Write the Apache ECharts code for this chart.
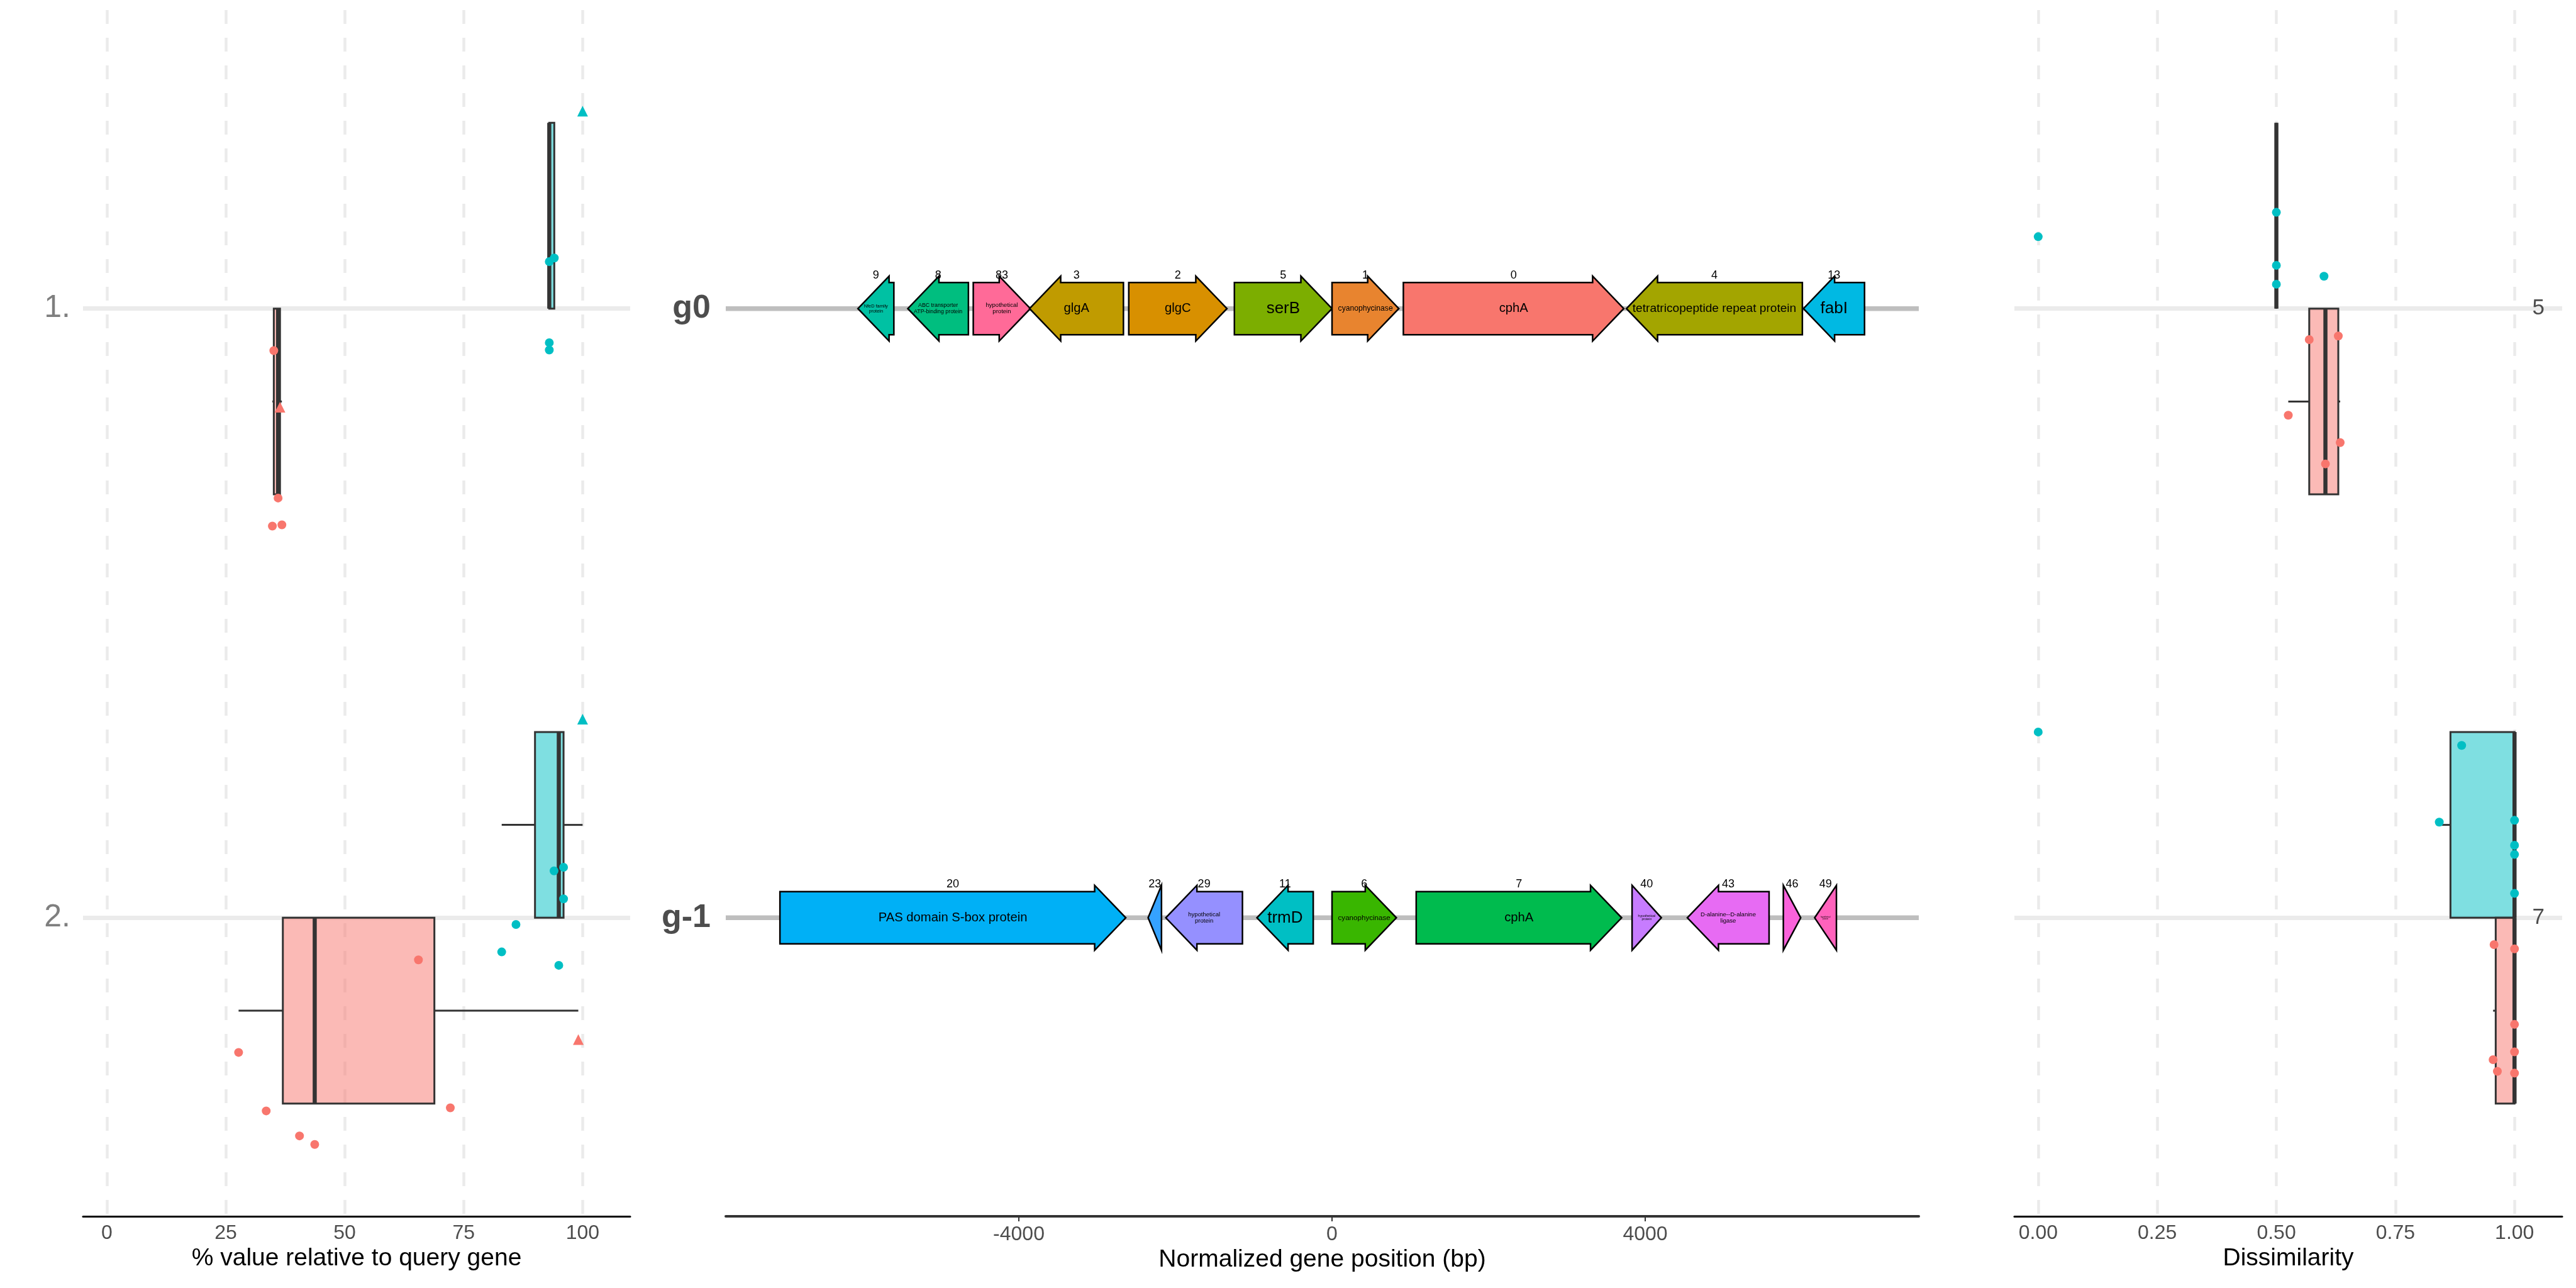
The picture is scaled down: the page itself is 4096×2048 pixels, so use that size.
<!DOCTYPE html>
<html><head><meta charset="utf-8">
<script src="https://cdn.jsdelivr.net/npm/echarts@6/dist/echarts.min.js"></script>
<style>html,body{margin:0;padding:0;background:#fff}#c{width:4096px;height:2048px}</style>
</head><body><div id="c"></div>
<script>
// ================= DATA =================
const ROW_CATEGORIES = [1, 2];
const LEFT_ROW_LABELS = ['1.', '2.'];
const MID_ROW_LABELS = ['g0', 'g-1'];
const RIGHT_ROW_LABELS = ['5', '7'];

const LEFT_TICKS = [0, 25, 50, 75, 100];
const MID_TICKS = [-4000, 0, 4000];
const RIGHT_TICKS = [0, 0.25, 0.5, 0.75, 1];

const LEFT_RANGE = [-5, 110];
const MID_RANGE = [-7743, 7494];
const RIGHT_RANGE = [-0.05, 1.10];
const ROW_RANGE = [0.51, 2.49];

// boxplot stats: [row, lowWhisker, q1, median, q3, highWhisker]
const LEFT_BOX_CYAN = [[1, 93.0, 93.0, 93.0, 94.05, 94.05], [2, 83.0, 90.0, 95.0, 96.0, 100.0]];
const LEFT_BOX_RED  = [[1, 34.8, 35.1, 36.0, 36.4, 36.8], [2, 27.7, 37.0, 43.7, 68.85, 99.1]];
const RIGHT_BOX_CYAN = [[1, 0.5, 0.5, 0.5, 0.5, 0.5], [2, 0.842, 0.8655, 1.0, 1.0, 1.0]];
const RIGHT_BOX_RED  = [[1, 0.525, 0.569, 0.603, 0.630, 0.634], [2, 0.955, 0.9605, 1.0, 1.0, 1.0]];

// jittered points: [value, row position]
const LEFT_CYAN_POINTS = [[93.0, 0.923], [94.05, 0.917], [93.0, 1.056], [93.0, 1.068],
  [94.0, 1.923], [96.0, 1.917], [96.0, 1.969], [86.0, 2.011], [83.0, 2.056], [95.0, 2.078]];
const LEFT_CYAN_QUERY = [[100, 0.676], [100, 1.674]];
const LEFT_RED_POINTS = [[35.1, 1.069], [36.0, 1.311], [34.8, 1.357], [36.8, 1.355],
  [65.5, 2.069], [27.7, 2.221], [33.5, 2.317], [72.2, 2.312], [40.5, 2.358], [43.7, 2.372]];
const LEFT_RED_QUERY = [[36.4, 1.162], [99.1, 2.2]];
const RIGHT_CYAN_POINTS = [[0.0, 0.882], [0.5, 0.842], [0.5, 0.929], [0.5, 0.960], [0.6, 0.947],
  [0.0, 1.695], [0.889, 1.717], [0.842, 1.843], [1.0, 1.840], [1.0, 1.881], [1.0, 1.896], [1.0, 1.960]];
const RIGHT_RED_POINTS = [[0.569, 1.051], [0.630, 1.045], [0.525, 1.175], [0.634, 1.220], [0.603, 1.255],
  [0.957, 2.044], [1.0, 2.051], [1.0, 2.175], [1.0, 2.220], [0.955, 2.233], [0.964, 2.252], [1.0, 2.255]];

// gene maps (bp, normalized); strand 1 = forward, -1 = reverse
const G0_IDS = ['9', '8', '83', '3', '2', '5', '1', '0', '4', '13'];
const G0_NAMES = ['NfeD family protein', 'ABC transporter ATP-binding protein', 'hypothetical protein', 'glgA', 'glgC', 'serB', 'cyanophycinase', 'cphA', 'tetratricopeptide repeat protein', 'fabI'];
const G0_START = [-6055, -5418, -4582, -3863, -2596, -1247, 0, 911, 3760, 6021];
const G0_END = [-5596, -4644, -3853, -2664, -1342, 0, 853, 3726, 6007, 6801];
const G0_STRAND = [-1, -1, 1, -1, 1, 1, 1, 1, -1, -1];

const G1_IDS = ['20', '23', '29', '11', '6', '7', '40', '43', '46', '49'];
const G1_NAMES = ['PAS domain S-box protein', '', 'hypothetical protein', 'trmD', 'cyanophycinase', 'cphA', 'hypothetical protein', 'D-alanine--D-alanine ligase', '', 'hypothetical protein'];
const G1_START = [-7051, -2349, -2123, -959, 0, 1075, 3832, 4538, 5764, 6164];
const G1_END = [-2634, -2178, -1144, -240, 822, 3699, 4206, 5582, 5986, 6442];
const G1_STRAND = [1, -1, -1, -1, 1, 1, 1, -1, 1, -1];

// ================= STYLE =================
const FONT = '"Liberation Sans", Arial, sans-serif';
const CYAN = '#00BFC4', RED = '#F8766D';
const CYAN_FILL = 'rgba(0,191,196,0.5)', RED_FILL = 'rgba(248,118,109,0.5)';
const GENE_FILL = {
  '9': '#00C1A3', '8': '#00BE7F', '83': '#FF6A98', '3': '#C09B00', '2': '#D89000',
  '5': '#7CAE00', '1': '#E8842F', '0': '#F8766D', '4': '#A3A500', '13': '#00B9E3',
  '20': '#00B0F6', '23': '#35A2FF', '29': '#9590FF', '11': '#00BFC4', '6': '#39B600',
  '7': '#00BB4E', '40': '#C77CFF', '43': '#E76BF3', '46': '#FA62DB', '49': '#FF62BC'
};
const BOX_SPAN = 0.305;
const HEAD_LEN = 49.5, BODY_HALF = 41.5, HEAD_HALF = 51.6;
const LABEL_BOX_H = 19, LABEL_PAD = 9.5, LINE_H = 1.05, MIN_FONT = 2.5;

// ================= HELPERS =================
const measureCtx = document.createElement('canvas').getContext('2d');
measureCtx.font = '100px "Liberation Sans"';
function emWidth(t) { return measureCtx.measureText(t).width / 100; }
function splits(words, maxLines) {
  const out = [];
  (function rec(start, acc) {
    if (start === words.length) { out.push(acc); return; }
    if (acc.length >= maxLines) return;
    for (let k = start + 1; k <= words.length; k++) rec(k, acc.concat([words.slice(start, k).join(' ')]));
  })(0, []);
  return out;
}
function fitLabel(name, widthPx) {
  if (!name) return null;
  const aw = widthPx - 2 * LABEL_PAD;
  if (aw <= 0) return null;
  const boxAspect = aw / LABEL_BOX_H;
  let best = null;
  for (const lines of splits(name.split(' '), 3)) {
    const wEm = Math.max.apply(null, lines.map(emWidth));
    const top = /[A-Z0-9bdfhiklt]/.test(lines[0]) ? 0.73 : 0.53;
    const bot = /[gjpqy]/.test(lines[lines.length - 1]) ? 0.21 : 0;
    const hEm = top + bot + (lines.length - 1) * LINE_H;
    const diff = Math.abs(wEm / hEm - boxAspect);
    if (!best || diff < best.diff) best = { diff, lines, wEm, hEm };
  }
  const f = Math.min(LABEL_BOX_H / best.hEm, aw / best.wEm);
  if (f < MIN_FONT) return null;
  return { text: best.lines.join('\n'), f };
}

function boxRenderer(side, fill) {
  return function (params, api) {
    const row = api.value(0), lo = api.value(1), q1 = api.value(2), med = api.value(3), q3 = api.value(4), hi = api.value(5);
    const edge = row + side * BOX_SPAN, mid = row + side * BOX_SPAN / 2;
    const pA = api.coord([q1, row]), pB = api.coord([q3, edge]);
    const yTop = Math.min(pA[1], pB[1]), yBot = Math.max(pA[1], pB[1]);
    const ym = api.coord([q1, mid])[1];
    const xlo = api.coord([lo, row])[0], xhi = api.coord([hi, row])[0], xmed = api.coord([med, row])[0];
    const st = { stroke: '#333333', lineWidth: 3 };
    return { type: 'group', children: [
      { type: 'line', shape: { x1: xlo, y1: ym, x2: pA[0], y2: ym }, style: st },
      { type: 'line', shape: { x1: pB[0], y1: ym, x2: xhi, y2: ym }, style: st },
      { type: 'rect', shape: { x: pA[0], y: yTop, width: pB[0] - pA[0], height: yBot - yTop }, style: { fill: fill, stroke: '#333333', lineWidth: 3 } },
      { type: 'line', shape: { x1: xmed, y1: yTop, x2: xmed, y2: yBot }, style: { stroke: '#333333', lineWidth: 6.5 } }
    ] };
  };
}

// gene table
const geneData = [], geneMeta = [];
function addRow(row, ids, names, starts, ends, strands) {
  for (let i = 0; i < ids.length; i++) {
    geneMeta.push({ id: ids[i], name: names[i] });
    geneData.push([starts[i], ends[i], row, strands[i], geneMeta.length - 1]);
  }
}
addRow(ROW_CATEGORIES[0], G0_IDS, G0_NAMES, G0_START, G0_END, G0_STRAND);
addRow(ROW_CATEGORIES[1], G1_IDS, G1_NAMES, G1_START, G1_END, G1_STRAND);

function renderGene(params, api) {
  const s = api.value(0), e = api.value(1), row = api.value(2), strand = api.value(3), k = api.value(4);
  const meta = geneMeta[k];
  const p1 = api.coord([s, row]), p2 = api.coord([e, row]);
  const x1 = p1[0], x2 = p2[0], cy = p1[1];
  const w = x2 - x1, hl = Math.min(HEAD_LEN, w);
  let pts;
  if (strand > 0) {
    const xh = x2 - hl;
    pts = [[x1, cy - BODY_HALF], [xh, cy - BODY_HALF], [xh, cy - HEAD_HALF], [x2, cy], [xh, cy + HEAD_HALF], [xh, cy + BODY_HALF], [x1, cy + BODY_HALF]];
  } else {
    const xh = x1 + hl;
    pts = [[x2, cy - BODY_HALF], [xh, cy - BODY_HALF], [xh, cy - HEAD_HALF], [x1, cy], [xh, cy + HEAD_HALF], [xh, cy + BODY_HALF], [x2, cy + BODY_HALF]];
  }
  const children = [
    { type: 'polygon', shape: { points: pts }, style: { fill: GENE_FILL[meta.id], stroke: '#000', lineWidth: 2.5, lineJoin: 'miter' } },
    { type: 'text', x: (x1 + x2) / 2, y: cy - 53, style: { text: meta.id, fontSize: 18, fontFamily: FONT, fill: '#000', align: 'center', verticalAlign: 'middle' } }
  ];
  const lab = fitLabel(meta.name, w);
  if (lab) {
    children.push({ type: 'text', x: (x1 + x2) / 2, y: cy, style: { text: lab.text, fontSize: lab.f, lineHeight: lab.f * LINE_H, fontFamily: FONT, fill: '#000', align: 'center', verticalAlign: 'middle' } });
  }
  return { type: 'group', children };
}

function renderBackbone(params, api) {
  const a = api.coord([api.value(0), api.value(1)]), b = api.coord([api.value(2), api.value(1)]);
  return { type: 'line', shape: { x1: a[0], y1: a[1], x2: b[0], y2: b[1] }, style: { stroke: '#bebebe', lineWidth: 7.5 } };
}

// ================= AXES =================
function xAxisSide(grid, range, ticks, name, fmt) {
  return {
    gridIndex: grid, type: 'value', min: range[0], max: range[1],
    axisLine: { show: true, onZero: false, lineStyle: { color: '#000', width: 3 } },
    axisTick: { show: false, customValues: ticks },
    axisLabel: { customValues: ticks, color: '#4d4d4d', fontSize: 32, margin: 11, fontFamily: FONT, formatter: fmt },
    splitLine: { show: true, lineStyle: { color: '#ebebeb', width: 4.5, type: [22, 22] } },
    name: name, nameLocation: 'middle', nameGap: 48,
    nameTextStyle: { color: '#000', fontSize: 39, fontFamily: FONT }
  };
}
function rowLabel(labels) { return v => labels[ROW_CATEGORIES.indexOf(Math.round(v))]; }

const option = {
  backgroundColor: '#ffffff',
  animation: false,
  textStyle: { fontFamily: FONT },
  grid: [
    { left: 132, top: 16, width: 870, height: 1918 },
    { left: 1154, top: 16, width: 1897, height: 1918 },
    { left: 3203, top: 16, width: 871, height: 1918 }
  ],
  xAxis: [
    xAxisSide(0, LEFT_RANGE, LEFT_TICKS, '% value relative to query gene', v => String(v)),
    {
      gridIndex: 1, type: 'value', min: MID_RANGE[0], max: MID_RANGE[1],
      axisLine: { show: true, onZero: false, lineStyle: { color: '#333333', width: 4 } },
      axisTick: { show: true, customValues: MID_TICKS, length: 8, lineStyle: { color: '#333333', width: 2 } },
      axisLabel: { customValues: MID_TICKS, color: '#4d4d4d', fontSize: 32, margin: 13, fontFamily: FONT, formatter: v => String(v) },
      splitLine: { show: false },
      name: 'Normalized gene position (bp)', nameLocation: 'middle', nameGap: 48,
      nameTextStyle: { color: '#000', fontSize: 39, fontFamily: FONT }
    },
    xAxisSide(2, RIGHT_RANGE, RIGHT_TICKS, 'Dissimilarity', v => v.toFixed(2))
  ],
  yAxis: [
    {
      gridIndex: 0, type: 'value', inverse: true, min: ROW_RANGE[0], max: ROW_RANGE[1],
      axisLine: { show: false, onZero: false }, axisTick: { show: false, customValues: ROW_CATEGORIES },
      axisLabel: { customValues: ROW_CATEGORIES, formatter: rowLabel(LEFT_ROW_LABELS), color: '#7f7f7f', fontSize: 50, margin: 20, fontFamily: FONT },
      splitLine: { show: true, lineStyle: { color: '#ebebeb', width: 7, type: 'solid' } }
    },
    {
      gridIndex: 1, type: 'value', inverse: true, min: ROW_RANGE[0], max: ROW_RANGE[1],
      axisLine: { show: false, onZero: false }, axisTick: { show: false, customValues: ROW_CATEGORIES },
      axisLabel: { customValues: ROW_CATEGORIES, formatter: rowLabel(MID_ROW_LABELS), color: '#4d4d4d', fontSize: 52, fontWeight: 'bold', margin: 24, fontFamily: FONT },
      splitLine: { show: false }
    },
    {
      gridIndex: 2, type: 'value', inverse: true, position: 'right', min: ROW_RANGE[0], max: ROW_RANGE[1],
      axisLine: { show: false, onZero: false }, axisTick: { show: false, customValues: ROW_CATEGORIES },
      axisLabel: { inside: true, customValues: ROW_CATEGORIES, formatter: rowLabel(RIGHT_ROW_LABELS), color: '#4d4d4d', fontSize: 35, margin: 28, fontFamily: FONT },
      splitLine: { show: true, lineStyle: { color: '#ebebeb', width: 7, type: 'solid' } }
    }
  ],
  series: [
    { type: 'custom', xAxisIndex: 0, yAxisIndex: 0, z: 3, silent: true, renderItem: boxRenderer(-1, CYAN_FILL), encode: { x: [1, 5], y: 0 }, data: LEFT_BOX_CYAN },
    { type: 'custom', xAxisIndex: 0, yAxisIndex: 0, z: 3, silent: true, renderItem: boxRenderer(1, RED_FILL), encode: { x: [1, 5], y: 0 }, data: LEFT_BOX_RED },
    { type: 'custom', xAxisIndex: 2, yAxisIndex: 2, z: 3, silent: true, renderItem: boxRenderer(-1, CYAN_FILL), encode: { x: [1, 5], y: 0 }, data: RIGHT_BOX_CYAN },
    { type: 'custom', xAxisIndex: 2, yAxisIndex: 2, z: 3, silent: true, renderItem: boxRenderer(1, RED_FILL), encode: { x: [1, 5], y: 0 }, data: RIGHT_BOX_RED },

    { type: 'scatter', xAxisIndex: 0, yAxisIndex: 0, z: 5, silent: true, symbol: 'circle', symbolSize: 14, itemStyle: { color: CYAN, opacity: 1 }, data: LEFT_CYAN_POINTS },
    { type: 'scatter', xAxisIndex: 0, yAxisIndex: 0, z: 5, silent: true, symbol: 'triangle', symbolSize: 17, itemStyle: { color: CYAN, opacity: 1 }, data: LEFT_CYAN_QUERY },
    { type: 'scatter', xAxisIndex: 0, yAxisIndex: 0, z: 5, silent: true, symbol: 'circle', symbolSize: 14, itemStyle: { color: RED, opacity: 1 }, data: LEFT_RED_POINTS },
    { type: 'scatter', xAxisIndex: 0, yAxisIndex: 0, z: 5, silent: true, symbol: 'triangle', symbolSize: 17, itemStyle: { color: RED, opacity: 1 }, data: LEFT_RED_QUERY },
    { type: 'scatter', xAxisIndex: 2, yAxisIndex: 2, z: 5, silent: true, symbol: 'circle', symbolSize: 14, itemStyle: { color: CYAN, opacity: 1 }, data: RIGHT_CYAN_POINTS },
    { type: 'scatter', xAxisIndex: 2, yAxisIndex: 2, z: 5, silent: true, symbol: 'circle', symbolSize: 14, itemStyle: { color: RED, opacity: 1 }, data: RIGHT_RED_POINTS },

    { type: 'custom', xAxisIndex: 1, yAxisIndex: 1, z: 2, silent: true, renderItem: renderBackbone, encode: { x: [0, 2], y: 1 },
      data: ROW_CATEGORIES.map(r => [MID_RANGE[0], r, MID_RANGE[1]]) },
    { type: 'custom', xAxisIndex: 1, yAxisIndex: 1, z: 4, silent: true, renderItem: renderGene, encode: { x: [0, 1], y: 2 }, data: geneData }
  ]
};

const chart = echarts.init(document.getElementById('c'), null, { renderer: 'canvas' });
chart.setOption(option);
</script>
</body></html>
